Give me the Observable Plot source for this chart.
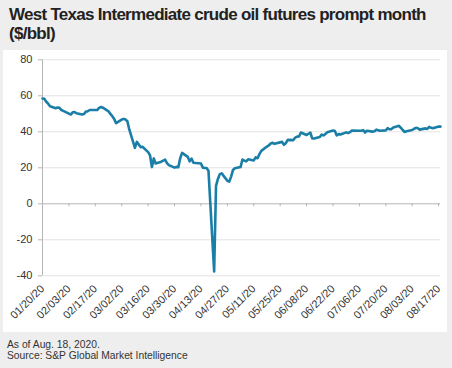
<!DOCTYPE html>
<html>
<head>
<meta charset="utf-8">
<script src="https://cdn.jsdelivr.net/npm/d3@7"></script>
<script src="https://cdn.jsdelivr.net/npm/@observablehq/plot@0.6"></script>
<style>
  html, body { margin: 0; padding: 0; background: #eeeeee; width: 452px; height: 368px; overflow: hidden; }
  #title { box-sizing: border-box; height: 50px; padding: 5px 0 0 9px; font-family: "Liberation Sans", Arial, sans-serif; font-weight: bold; font-size: 17px; line-height: 19px; color: #222; letter-spacing: -0.72px; }
  #chart { margin-left: 3px; width: 444px; height: 282px; background: #fff; }
  #chart svg { display: block; background: #fff; }
  #footer { box-sizing: border-box; height: 36px; padding: 7px 0 0 7px; font-family: "Liberation Sans", Arial, sans-serif; font-size: 10.3px; line-height: 11px; color: #333; }
</style>
</head>
<body>
<div id="title">West Texas Intermediate crude oil futures prompt month<br>($/bbl)</div>
<div id="chart"></div>
<div id="footer">As of Aug. 18, 2020.<br>Source: S&amp;P Global Market Intelligence</div>
<script>
// Trading dates (2020) and WTI prompt-month price ($/bbl)
const dates = [
  "2020-01-20","2020-01-21","2020-01-22","2020-01-23","2020-01-24","2020-01-27","2020-01-28","2020-01-29","2020-01-30","2020-01-31",
  "2020-02-03","2020-02-04","2020-02-05","2020-02-06","2020-02-07","2020-02-10","2020-02-11","2020-02-12","2020-02-13","2020-02-14",
  "2020-02-18","2020-02-19","2020-02-20","2020-02-21","2020-02-24","2020-02-25","2020-02-26","2020-02-27","2020-02-28",
  "2020-03-02","2020-03-03","2020-03-04","2020-03-05","2020-03-06","2020-03-09","2020-03-10","2020-03-11","2020-03-12","2020-03-13",
  "2020-03-16","2020-03-17","2020-03-18","2020-03-19","2020-03-20","2020-03-23","2020-03-24","2020-03-25","2020-03-26","2020-03-27",
  "2020-03-30","2020-03-31","2020-04-01","2020-04-02","2020-04-03","2020-04-06","2020-04-07","2020-04-08","2020-04-09",
  "2020-04-13","2020-04-14","2020-04-15","2020-04-16","2020-04-17","2020-04-20","2020-04-21","2020-04-22","2020-04-23","2020-04-24",
  "2020-04-27","2020-04-28","2020-04-29","2020-04-30","2020-05-01","2020-05-04","2020-05-05","2020-05-06","2020-05-07","2020-05-08",
  "2020-05-11","2020-05-12","2020-05-13","2020-05-14","2020-05-15","2020-05-18","2020-05-19","2020-05-20","2020-05-21","2020-05-22",
  "2020-05-26","2020-05-27","2020-05-28","2020-05-29","2020-06-01","2020-06-02","2020-06-03","2020-06-04","2020-06-05",
  "2020-06-08","2020-06-09","2020-06-10","2020-06-11","2020-06-12","2020-06-15","2020-06-16","2020-06-17","2020-06-18","2020-06-19",
  "2020-06-22","2020-06-23","2020-06-24","2020-06-25","2020-06-26","2020-06-29","2020-06-30","2020-07-01","2020-07-02",
  "2020-07-06","2020-07-07","2020-07-08","2020-07-09","2020-07-10","2020-07-13","2020-07-14","2020-07-15","2020-07-16","2020-07-17",
  "2020-07-20","2020-07-21","2020-07-22","2020-07-23","2020-07-24","2020-07-27","2020-07-28","2020-07-29","2020-07-30","2020-07-31",
  "2020-08-03","2020-08-04","2020-08-05","2020-08-06","2020-08-07","2020-08-10","2020-08-11","2020-08-12","2020-08-13","2020-08-14",
  "2020-08-17","2020-08-18"
];
const prices = [
  58.5,58.3,56.7,55.6,54.2,53.1,53.5,53.3,52.1,51.6,
  50.1,49.6,50.8,51.0,50.3,49.6,49.9,51.2,51.4,52.1,
  52.1,53.3,53.8,53.4,51.4,49.9,48.7,47.1,44.8,
  46.8,47.2,46.8,45.9,41.3,31.1,34.4,33.0,31.5,31.7,
  28.7,27.0,20.4,25.2,22.4,23.4,24.0,24.5,22.6,21.5,
  20.1,20.5,20.3,25.3,28.3,26.1,23.6,25.1,22.8,
  22.4,20.1,19.9,19.9,18.3,-37.6,10.0,13.8,16.5,16.9,
  12.8,12.3,15.1,18.8,19.8,20.4,24.6,24.0,23.6,24.7,
  24.1,25.8,25.3,27.6,29.4,31.8,32.5,33.5,33.9,33.3,
  34.4,32.8,33.7,35.5,35.4,36.8,37.3,37.4,39.6,
  38.2,38.9,39.6,36.3,36.3,37.1,38.4,38.0,38.8,39.8,
  40.7,40.4,38.0,38.7,38.5,39.7,39.3,39.8,40.7,
  40.6,40.6,40.9,39.6,40.6,40.1,40.3,41.2,40.8,40.6,
  40.8,42.0,41.4,41.5,42.4,43.3,42.2,41.0,39.9,40.3,
  41.0,41.7,42.2,42.0,41.2,41.9,41.6,42.7,42.2,42.0,
  42.9,42.9
];
const xTickLabels = ["01/20/20","02/03/20","02/17/20","03/02/20","03/16/20","03/30/20","04/13/20","04/27/20",
  "05/11/20","05/25/20","06/08/20","06/22/20","07/06/20","07/20/20","08/03/20","08/17/20"];
const yTicks = [-40, -20, 0, 20, 40, 60, 80];

const parseTick = d3.utcParse("%m/%d/%y");
const xTicks = xTickLabels.map(parseTick);
const data = dates.map((d, i) => ({date: d3.utcParse("%Y-%m-%d")(d), value: prices[i]}));
const xDomain = [data[0].date, data[data.length - 1].date];

const chart = Plot.plot({
  width: 444,
  height: 282,
  marginTop: 9.3,
  marginBottom: 56.7,
  marginLeft: 39,
  marginRight: 7,
  style: {fontFamily: "'Liberation Sans', Arial, sans-serif", fontSize: "11px", color: "#333", background: "#fff"},
  x: {type: "utc", domain: xDomain},
  y: {domain: [-40, 80]},
  marks: [
    Plot.ruleY(yTicks.filter(v => v !== 0), {stroke: "#e3e3e3", strokeWidth: 1}),
    Plot.ruleX([xDomain[0]], {y1: -40, y2: 80, stroke: "#b5b5b5", strokeWidth: 1}),
    Plot.ruleY([0], {stroke: "#b5b5b5", strokeWidth: 1}),
    Plot.ruleX(xTicks, {y1: 0, y2: 0, insetBottom: -3, stroke: "#b5b5b5"}),
    Plot.axisY({ticks: yTicks, tickSize: 4, tickPadding: 6, stroke: "#b5b5b5", tickFormat: d => d, fill: "#333", label: null}),
    Plot.axisX({ticks: xTicks, tickSize: 0, tickPadding: 11, tickRotate: -45, tickFormat: d3.utcFormat("%m/%d/%y"), fill: "#333", label: null}),
    Plot.line(data, {x: "date", y: "value", stroke: "#1a7ea6", strokeWidth: 2.6, strokeLinejoin: "round", strokeLinecap: "round"})
  ]
});
document.getElementById("chart").appendChild(chart);
</script>
</body>
</html>
